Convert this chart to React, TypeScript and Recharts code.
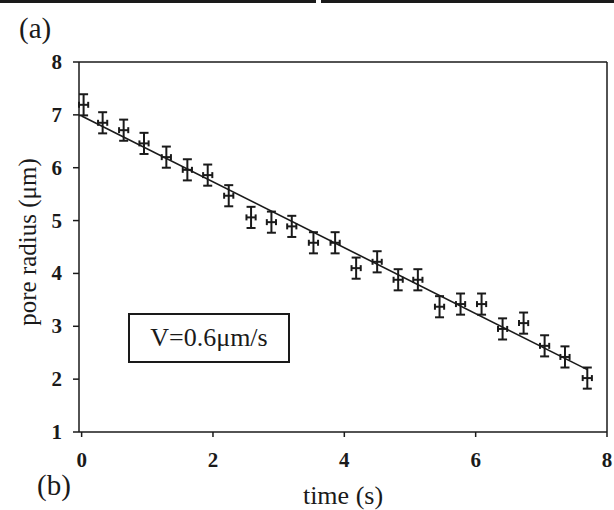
import React from 'react';
import { ScatterChart, Scatter, XAxis, YAxis, ErrorBar, Label, ReferenceLine } from 'recharts';

// pore radius vs time
const times = [0.03, 0.32, 0.64, 0.95, 1.29, 1.61, 1.92, 2.24, 2.58, 2.89, 3.2, 3.53, 3.86, 4.18, 4.5, 4.82, 5.12, 5.45, 5.77, 6.09, 6.41, 6.73, 7.05, 7.36, 7.7];
const radii = [7.19, 6.85, 6.71, 6.46, 6.2, 5.96, 5.86, 5.47, 5.06, 4.97, 4.89, 4.58, 4.58, 4.1, 4.22, 3.88, 3.88, 3.37, 3.42, 3.42, 2.95, 3.06, 2.63, 2.42, 2.02];
const timeErr = [0.07, 0.07, 0.07, 0.07, 0.07, 0.07, 0.07, 0.07, 0.07, 0.07, 0.07, 0.07, 0.07, 0.07, 0.07, 0.07, 0.07, 0.07, 0.07, 0.07, 0.07, 0.07, 0.07, 0.07, 0.07];
const radiusErr = [0.2, 0.2, 0.2, 0.2, 0.2, 0.2, 0.2, 0.2, 0.2, 0.2, 0.2, 0.2, 0.2, 0.2, 0.2, 0.2, 0.2, 0.2, 0.2, 0.2, 0.2, 0.2, 0.2, 0.2, 0.2];

// linear fit, V = 0.6 um/s
const fitTimes = [0, 7.7];
const fitRadii = [6.98, 2.18];

const xTicks = [0, 2, 4, 6, 8];
const yTicks = [1, 2, 3, 4, 5, 6, 7, 8];

const points = times.map((t, i) => ({ t, r: radii[i], et: timeErr[i], er: radiusErr[i] }));
const fitLine = fitTimes.map((t, i) => ({ t, r: fitRadii[i] }));

const FONT = '"Liberation Serif", "Times New Roman", serif';
const INK = '#1a1a1a';

const XTick = ({ x, y, payload }: any) => (
  <text x={x} y={y + 28} textAnchor="middle"
    style={{ fontFamily: FONT, fontSize: 21, fontWeight: 700, fill: INK }}>
    {payload.value}
  </text>
);

const YTick = ({ x, y, payload }: any) => (
  <text x={x - 9} y={y + 7} textAnchor="end"
    style={{ fontFamily: FONT, fontSize: 21, fontWeight: 700, fill: INK }}>
    {payload.value}
  </text>
);

export default function App() {
  return (
    <div style={{ position: 'absolute', left: 0, top: 0, width: 614, height: 510, background: '#fff', fontFamily: FONT }}>
      {/* bottom edges of the panels above, cut off in the scan */}
      <div style={{ position: 'absolute', left: 0, top: 0, width: 316, height: 3, background: INK }} />
      <div style={{ position: 'absolute', left: 321, top: 0, width: 293, height: 3, background: INK }} />
      <div style={{ position: 'absolute', left: 19, top: 12, fontSize: 29, color: INK }}>(a)</div>
      <div style={{ position: 'absolute', left: 37, top: 469, fontSize: 29, color: INK }}>(b)</div>

      <ScatterChart width={614} height={510} margin={{ top: 62, right: 7, left: 0, bottom: 0 }}>
        <XAxis
          dataKey="t"
          type="number"
          domain={[0, 8]}
          ticks={xTicks}
          height={78}
          tickSize={5}
          tick={<XTick />}
          stroke={INK}
          strokeWidth={1.5}
        >
          <Label
            content={({ viewBox }: any) => (
              <text x={viewBox.x + viewBox.width / 2} y={viewBox.y + 72} textAnchor="middle"
                style={{ fontFamily: FONT, fontSize: 26, fill: INK }}>
                time (s)
              </text>
            )}
          />
        </XAxis>
        <YAxis
          dataKey="r"
          type="number"
          domain={[1, 8]}
          ticks={yTicks}
          width={79}
          tickSize={6}
          tick={<YTick />}
          stroke={INK}
          strokeWidth={1.5}
        >
          <Label
            content={({ viewBox }: any) => {
              const cx = viewBox.x + 27;
              const cy = viewBox.y + viewBox.height / 2 - 5;
              return (
                <text x={cx} y={cy} textAnchor="middle" dominantBaseline="central"
                  transform={`rotate(-90, ${cx}, ${cy})`}
                  style={{ fontFamily: FONT, fontSize: 25, fill: INK }}>
                  pore radius (μm)
                </text>
              );
            }}
          />
        </YAxis>

        {/* closing the frame on top and right */}
        <ReferenceLine y={8} stroke={INK} strokeWidth={1.5} />
        <ReferenceLine x={8} stroke={INK} strokeWidth={1.5} />

        <Scatter
          data={fitLine}
          dataKey="r"
          line={{ stroke: INK, strokeWidth: 1.6 }}
          shape={() => <g />}
          isAnimationActive={false}
        />
        <Scatter data={points} dataKey="r" shape={() => <g />} isAnimationActive={false}>
          <ErrorBar dataKey="er" direction="y" width={4.5} stroke={INK} strokeWidth={2} isAnimationActive={false} />
          <ErrorBar dataKey="et" direction="x" width={3} stroke={INK} strokeWidth={2} isAnimationActive={false} />
        </Scatter>
      </ScatterChart>

      <div style={{
        position: 'absolute', left: 128, top: 313, width: 158, height: 46,
        border: `2px solid ${INK}`, display: 'flex', alignItems: 'center', justifyContent: 'center',
        fontSize: 26, color: INK, background: '#fff',
      }}>
        V=0.6μm/s
      </div>
    </div>
  );
}
